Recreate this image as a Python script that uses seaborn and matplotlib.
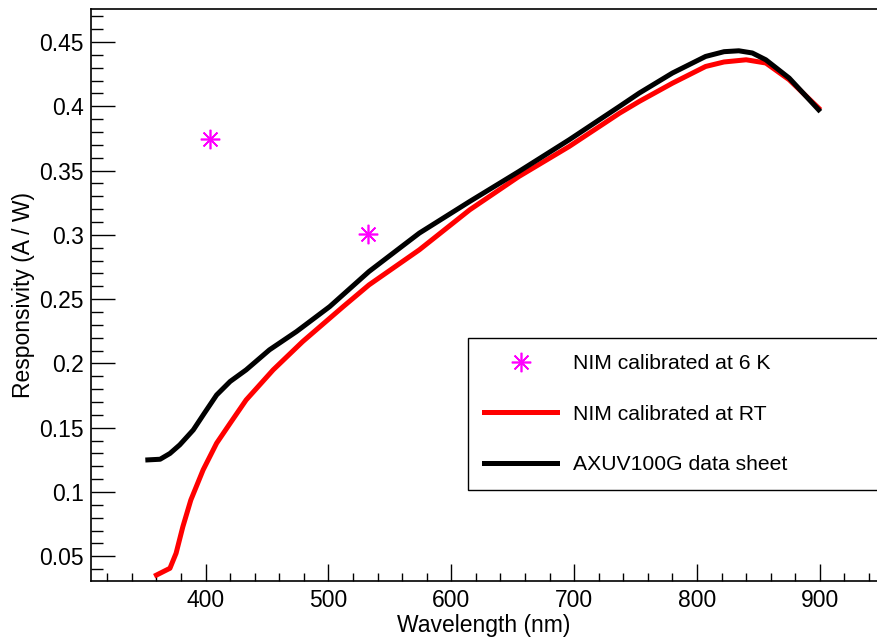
import matplotlib
matplotlib.use("Agg")
import matplotlib.pyplot as plt
from matplotlib.ticker import MultipleLocator, FuncFormatter
import seaborn as sns
import pandas as pd

# ---- data ----
axuv_wl = [353, 363, 371, 379, 390, 399, 409, 420, 433, 452, 474, 501, 533,
           574, 615, 655, 696, 737, 753, 780, 807, 822, 834, 845, 856, 875, 899]
axuv_r = [0.125, 0.1255, 0.130, 0.1367, 0.1483, 0.1613, 0.1755, 0.186, 0.195,
          0.2106, 0.2248, 0.2442, 0.2715, 0.3014, 0.326, 0.3493, 0.374, 0.400,
          0.4103, 0.4259, 0.4388, 0.4425, 0.4432, 0.4415, 0.4362, 0.422, 0.3973]

rt_wl = [360, 371, 376, 381.5, 388, 398, 409, 420, 433, 455, 479, 512, 533,
         574, 615, 655, 696, 737, 753, 780, 807, 822, 840, 856, 875, 899]
rt_r = [0.0354, 0.0407, 0.0524, 0.073, 0.0938, 0.1172, 0.138, 0.1535, 0.1716,
        0.195, 0.217, 0.2442, 0.2611, 0.2884, 0.3195, 0.3454, 0.3688, 0.3947,
        0.4038, 0.418, 0.431, 0.4345, 0.4362, 0.4337, 0.4207, 0.3986]

k6_wl = [404, 532]
k6_r = [0.3748, 0.301]

labels = ["NIM calibrated at 6 K", "NIM calibrated at RT", "AXUV100G data sheet"]

plt.rcParams['font.family'] = ['Liberation Sans', 'DejaVu Sans']

W, H = 877, 641
fig = plt.figure(figsize=(W / 100, H / 100), dpi=100)
ax = fig.add_axes([90.7 / W, (H - 581) / H, (W - 90.7) / W, (581 - 9) / H])

df_k6 = pd.DataFrame({"wl": k6_wl, "r": k6_r})
df_rt = pd.DataFrame({"wl": rt_wl, "r": rt_r})
df_ax = pd.DataFrame({"wl": axuv_wl, "r": axuv_r})

sns.lineplot(data=df_k6, x="wl", y="r", ax=ax, color="#ff00ff", linestyle="",
             marker=(8, 2, 0), markersize=14, markeredgewidth=1.2,
             markeredgecolor="#ff00ff", markerfacecolor="#ff00ff",
             label=labels[0], sort=False, estimator=None)
sns.lineplot(data=df_rt, x="wl", y="r", ax=ax, color="#ff0000", linewidth=3.6,
             label=labels[1], sort=False, estimator=None)
sns.lineplot(data=df_ax, x="wl", y="r", ax=ax, color="black", linewidth=3.6,
             label=labels[2], sort=False, estimator=None)

ax.set_xlim(306.5, 946.5)
ax.set_ylim(0.0308, 0.4757)

ax.xaxis.set_major_locator(MultipleLocator(100))
ax.xaxis.set_minor_locator(MultipleLocator(20))
ax.yaxis.set_major_locator(MultipleLocator(0.05))
ax.yaxis.set_minor_locator(MultipleLocator(0.01))
ax.yaxis.set_major_formatter(FuncFormatter(lambda v, p: "%g" % round(v, 3)))

ax.tick_params(axis="both", which="both", direction="in", top=False, right=False,
               labelsize=16.5, colors="black", width=1)
ax.tick_params(axis="y", which="major", length=17, pad=5)
ax.tick_params(axis="y", which="minor", length=8.5)
ax.tick_params(axis="x", which="major", length=12, pad=6)
ax.tick_params(axis="x", which="minor", length=6)

for s in ["left", "bottom", "top"]:
    ax.spines[s].set_linewidth(1.2)
    ax.spines[s].set_color("black")
ax.spines["right"].set_visible(False)

ax.set_xlabel("Wavelength (nm)", fontsize=16.5, labelpad=1.5)
ax.set_ylabel("Responsivity (A / W)", fontsize=16.5, labelpad=3)

leg = ax.legend(loc="upper left",
                bbox_to_anchor=(468.3 / W, 1 - 490 / H, 0.48, (490 - 338.3) / H),
                bbox_transform=fig.transFigure, mode="expand", borderaxespad=0,
                fontsize=15.2, frameon=True, fancybox=False, framealpha=1,
                edgecolor="black", borderpad=0.76, labelspacing=1.49,
                handlelength=3.46, handletextpad=0.76)
leg.get_frame().set_linewidth(1.0)

fig.savefig("out.png", dpi=100)
